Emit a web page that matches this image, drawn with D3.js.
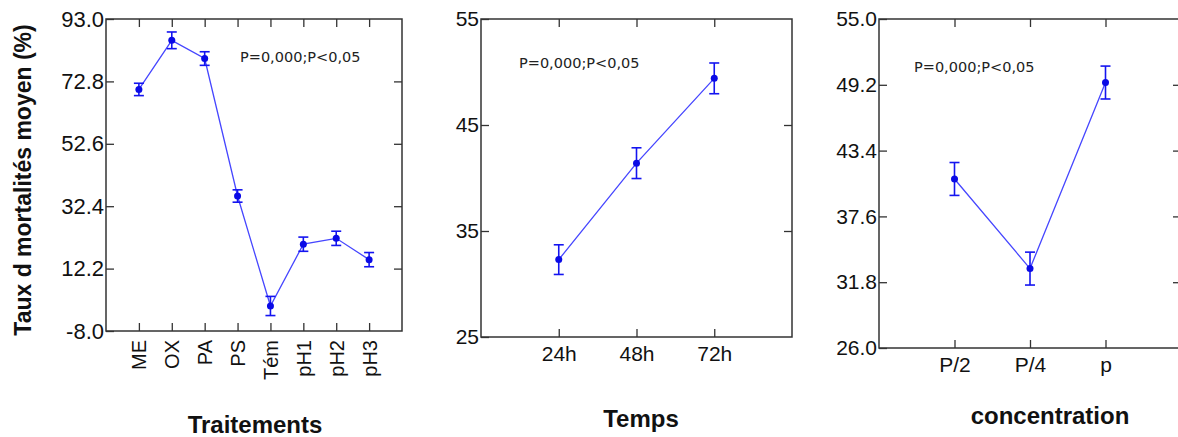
<!DOCTYPE html>
<html>
<head>
<meta charset="utf-8">
<script src="https://cdn.jsdelivr.net/npm/d3@7"></script>
<style>
	body { margin: 0; background: #fff; }
	text { font-family: "Liberation Sans", Arial, sans-serif; fill: #111; }
	.annot { font-family: "DejaVu Sans", Verdana, sans-serif; }
</style>
</head>
<body>
<svg id="chart" width="1178" height="437"></svg>
<script>
// Panel 1 : Traitements
const traitements = ["ME", "OX", "PA", "PS", "Tém", "pH1", "pH2", "pH3"];
const traitementsMoy = [70.2, 86.1, 80.2, 35.7, 0.1, 20.1, 22.0, 15.1];
const traitementsErr = [2.0, 2.7, 2.2, 2.0, 3.1, 2.3, 2.3, 2.3];
const traitementsTicks = [-8.0, 12.2, 32.4, 52.6, 72.8, 93.0];

// Panel 2 : Temps
const temps = ["24h", "48h", "72h"];
const tempsMoy = [32.3, 41.4, 49.4];
const tempsErr = [1.4, 1.45, 1.45];
const tempsTicks = [25, 35, 45, 55];

// Panel 3 : concentration
const concentrations = ["P/2", "P/4", "p"];
const concentrationsMoy = [40.9, 33.0, 49.4];
const concentrationsErr = [1.45, 1.45, 1.45];
const concentrationsTicks = [26.0, 31.8, 37.6, 43.4, 49.2, 55.0];

const annotation = "P=0,000;P<0,05";

const svg = d3.select("#chart");

// plain hyphen for negatives, like the original
const fmt1 = (d) => d.toFixed(1);
const fmt0 = (d) => d.toFixed(0);

function drawPanel(opt) {
	const { cats, means, errs, yTicks, yFmt, box } = opt;
	const g = svg.append("g");

	const xScale = d3
		.scaleLinear()
		.domain([0, cats.length + 1])
		.range([box.left, box.right]);
	const yScale = d3
		.scaleLinear()
		.domain([yTicks[0], yTicks[yTicks.length - 1]])
		.range([box.bottom, box.top]);

	const xVals = cats.map((c, i) => i + 1);
	const tick = 8;

	// Frame
	g.append("rect")
		.attr("x", box.left)
		.attr("y", box.top)
		.attr("width", box.right - box.left)
		.attr("height", box.bottom - box.top)
		.style("fill", "none")
		.style("stroke", "#333")
		.style("stroke-width", 1.5);

	// Left axis (ticks inward)
	const yAxis = g
		.append("g")
		.attr("transform", `translate(${box.left},0)`)
		.call(
			d3.axisLeft(yScale).tickValues(yTicks).tickSize(-tick).tickPadding(2).tickFormat(yFmt)
		);
	yAxis.select(".domain").remove();
	yAxis.selectAll("line").style("stroke", "#333").style("stroke-width", 1.3);
	yAxis
		.selectAll("text")
		.style("font-size", opt.yFont + "px")
		.style("fill", "#111");

	// Right ticks
	const yRight = g
		.append("g")
		.attr("transform", `translate(${box.right},0)`)
		.call(d3.axisRight(yScale).tickValues(yTicks.slice(1, -1)).tickSize(-tick).tickFormat(""));
	yRight.select(".domain").remove();
	yRight.selectAll("line").style("stroke", "#333").style("stroke-width", 1.3);

	// Top ticks
	const xTop = g
		.append("g")
		.attr("transform", `translate(0,${box.top})`)
		.call(d3.axisTop(xScale).tickValues(xVals).tickSize(-tick).tickFormat(""));
	xTop.select(".domain").remove();
	xTop.selectAll("line").style("stroke", "#333").style("stroke-width", 1.3);

	// Bottom axis
	const xAxis = g
		.append("g")
		.attr("transform", `translate(0,${box.bottom})`)
		.call(
			d3
				.axisBottom(xScale)
				.tickValues(xVals)
				.tickSize(-tick)
				.tickPadding(opt.xPad)
				.tickFormat((d) => cats[d - 1])
		);
	xAxis.select(".domain").remove();
	xAxis.selectAll("line").style("stroke", "#333").style("stroke-width", 1.3);
	const xText = xAxis
		.selectAll("text")
		.style("font-size", opt.xFont + "px")
		.style("fill", "#111");
	if (opt.rotate) {
		xText
			.attr("transform", "rotate(-90)")
			.attr("x", -opt.xPad)
			.attr("y", 0)
			.attr("dy", "0.35em")
			.style("text-anchor", "end");
	}

	// Axis title
	g.append("text")
		.attr("x", opt.titleX)
		.attr("y", opt.titleY)
		.style("text-anchor", "middle")
		.style("font-size", "24px")
		.style("font-weight", "bold")
		.text(opt.title);

	// Annotation
	g.append("text")
		.attr("class", "annot")
		.attr("x", opt.annX)
		.attr("y", opt.annY)
		.style("font-size", "14.5px")
		.style("fill", "#222")
		.text(annotation);

	const pts = cats.map((c, i) => ({ x: i + 1, v: means[i], e: errs[i] }));

	// Line
	const line = d3
		.line()
		.x((d) => xScale(d.x))
		.y((d) => yScale(d.v));
	g.append("path")
		.attr("d", line(pts))
		.style("fill", "none")
		.style("stroke", "#4646ff")
		.style("stroke-width", 1.3);

	// Error bars
	const eb = g.append("g").style("stroke", "#1414f0").style("stroke-width", 1.6);
	pts.forEach((d) => {
		const x = xScale(d.x);
		const y0 = yScale(d.v - d.e);
		const y1 = yScale(d.v + d.e);
		eb.append("line").attr("x1", x).attr("x2", x).attr("y1", y0).attr("y2", y1);
		eb.append("line").attr("x1", x - 5).attr("x2", x + 5).attr("y1", y0).attr("y2", y0);
		eb.append("line").attr("x1", x - 5).attr("x2", x + 5).attr("y1", y1).attr("y2", y1);
	});

	// Points
	g.selectAll("circle.point")
		.data(pts)
		.enter()
		.append("circle")
		.attr("class", "point")
		.attr("cx", (d) => xScale(d.x))
		.attr("cy", (d) => yScale(d.v))
		.attr("r", 3.5)
		.style("fill", "#0a0ae6");

	return g;
}

drawPanel({
	cats: traitements,
	means: traitementsMoy,
	errs: traitementsErr,
	yTicks: traitementsTicks,
	yFmt: fmt1,
	box: { left: 106, right: 402, top: 19, bottom: 331 },
	yFont: 22,
	xFont: 20,
	xPad: 9,
	rotate: true,
	title: "Traitements",
	titleX: 255,
	titleY: 433,
	annX: 240,
	annY: 62,
});

// Y title of the first panel
svg.append("text")
	.attr("transform", "translate(31,180) rotate(-90)")
	.style("text-anchor", "middle")
	.style("font-size", "23px")
	.style("font-weight", "bold")
	.text("Taux d mortalités moyen (%)");

drawPanel({
	cats: temps,
	means: tempsMoy,
	errs: tempsErr,
	yTicks: tempsTicks,
	yFmt: fmt0,
	box: { left: 481, right: 792, top: 19, bottom: 337 },
	yFont: 21,
	xFont: 21,
	xPad: 9,
	rotate: false,
	title: "Temps",
	titleX: 641,
	titleY: 427,
	annX: 519,
	annY: 68,
});

drawPanel({
	cats: concentrations,
	means: concentrationsMoy,
	errs: concentrationsErr,
	yTicks: concentrationsTicks,
	yFmt: fmt1,
	box: { left: 879, right: 1181, top: 19, bottom: 348 },
	yFont: 21,
	xFont: 21,
	xPad: 9,
	rotate: false,
	title: "concentration",
	titleX: 1050,
	titleY: 424,
	annX: 914,
	annY: 72,
});
</script>
</body>
</html>
